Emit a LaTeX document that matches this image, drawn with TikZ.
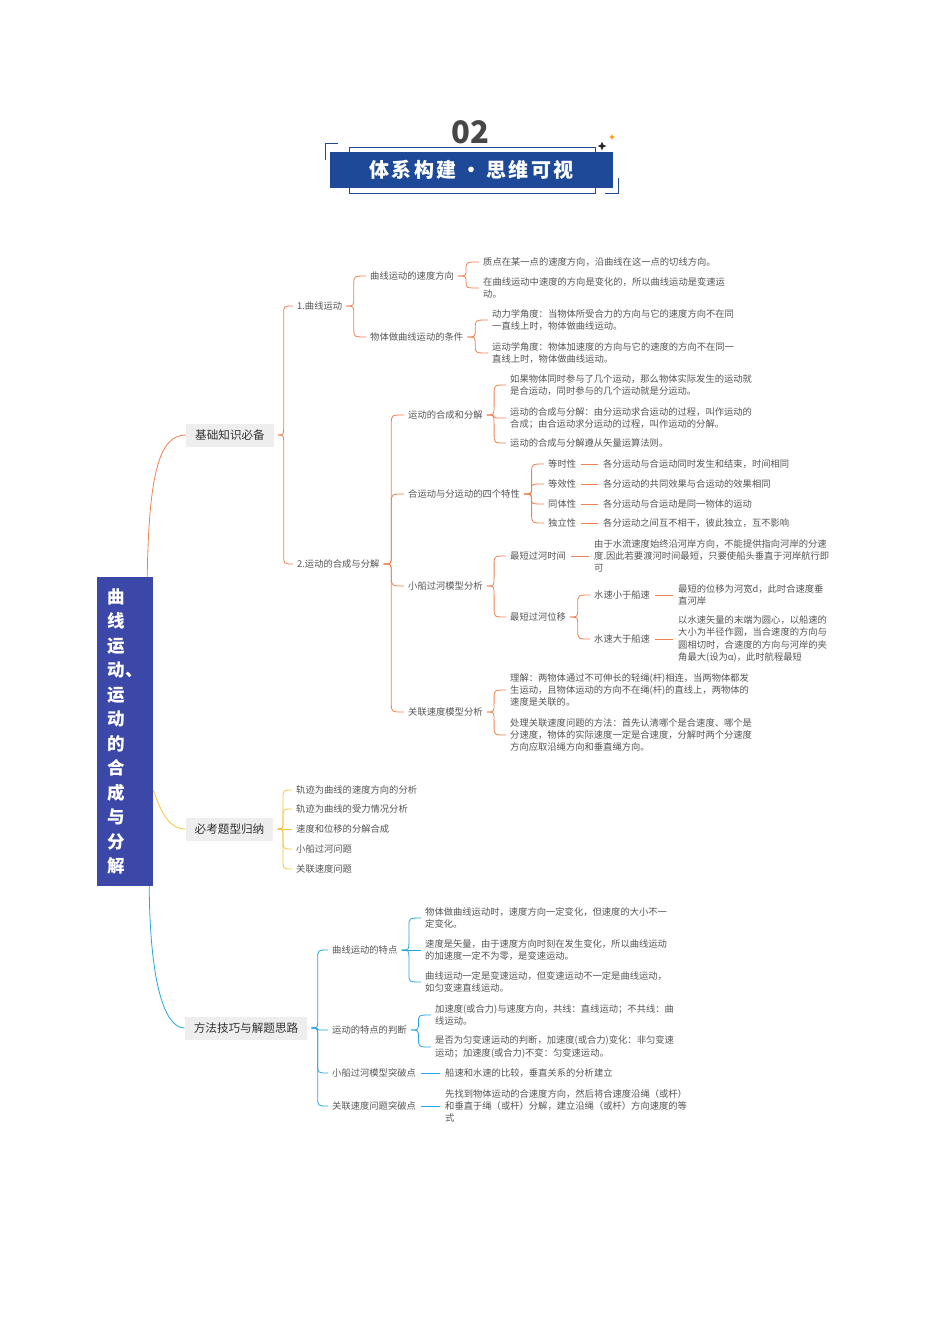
\documentclass[tikz,border=0pt]{standalone}
\usepackage{fontspec}
\setmainfont{Noto Sans CJK SC}
\usetikzlibrary{calc}
\definecolor{orn}{RGB}{240,128,80}
\definecolor{ylw}{RGB}{246,196,60}
\definecolor{sky}{RGB}{38,166,224}
\definecolor{txt}{RGB}{85,85,85}
\definecolor{bannerblue}{RGB}{30,72,152}
\definecolor{rootblue}{RGB}{60,72,168}
\definecolor{boxgray}{RGB}{238,238,238}
\tikzset{
  lbl/.style={anchor=west, inner sep=0pt, text=txt, font=\fontsize{9.3}{12.2}\selectfont, align=left},
  hub/.style={fill=boxgray, text=black!80, font=\fontsize{11.6}{14}\selectfont, inner xsep=9pt, inner ysep=0pt, minimum height=23pt},
  lo/.style={draw=orn, line width=0.8pt},
  ly/.style={draw=ylw, line width=0.8pt},
  lb/.style={draw=sky, line width=0.8pt},
}
\newcommand\brc[3]{\draw[#1] let \p1=([xshift=4pt]#2.east), \p2=([xshift=-4pt]#3.west),
  \n1={\x1+0.38*((\x2)-(\x1))}, \n2={min(9,abs((\y2)-(\y1))/2)*sign((\y2)-(\y1))} in
  (\p1) .. controls (\n1,\y1) .. (\n1,{\y1+\n2}) -- (\n1,{\y2-\n2}) .. controls (\n1,\y2) .. (\p2);}
\newcommand\dsh[3]{\draw[#1] ([xshift=5pt]#2.east) -- ([xshift=-5pt]#3.west);}
\newcommand\sparkle[4]{\fill[#4, shift={(#1,#2)}] (0,-#3) -- (0.28*#3,-0.28*#3) -- (#3,0) -- (0.28*#3,0.28*#3) -- (0,#3) -- (-0.28*#3,0.28*#3) -- (-#3,0) -- (-0.28*#3,-0.28*#3) -- cycle;}
\begin{document}
\begin{tikzpicture}[x=1pt,y=-1pt]
\useasboundingbox (0,0) rectangle (950,1344);
\fill[white] (0,0) rectangle (950,1344);
% ---------- title ----------
\node[font=\bfseries\fontsize{31}{31}\selectfont, text=black!72, inner sep=0] (num) at (470,132) {02};
\draw[bannerblue, line width=0.8pt] (349,147) rectangle (595,193);
\draw[bannerblue, line width=1pt] (338,143) -- (325,143) -- (325,160);
\draw[bannerblue, line width=1pt] (605,193) -- (618,193) -- (618,178);
\node[fill=bannerblue, minimum width=283pt, minimum height=36pt, inner sep=0, text=white,
      font=\bfseries\fontsize{20}{22}\selectfont] (banner) at (471.5,170)
      {体\hspace{2.4pt}系\hspace{2.4pt}构\hspace{2.4pt}建\hspace{5pt}·\hspace{5pt}思\hspace{2.4pt}维\hspace{2.4pt}可\hspace{2.4pt}视};
\sparkle{602}{146}{4.5}{black!85}
\sparkle{612}{137}{3}{orange!80!yellow}
% ---------- root ----------
\node[fill=rootblue, minimum width=56pt, minimum height=309pt, inner sep=0, text=white, align=left,
      font=\bfseries\fontsize{17.5}{24.5}\selectfont] (root) at (125,731.5)
      {曲\\线\\运\\动、\\运\\动\\的\\合\\成\\与\\分\\解};
% ---------- main hubs ----------
\node[hub] (b1) at (230,435) {基础知识必备};
\node[hub] (b2) at (229.5,829) {必考题型归纳};
\node[hub] (b3) at (246,1028) {方法技巧与解题思路};
\draw[lo] ([xshift=-6pt]root.north east) .. controls (149,470) and (160,435) .. (b1.west);
\draw[ly] ([yshift=-58.5pt]root.east) .. controls (162,815) and (170,829) .. (b2.west);
\draw[lb] ([xshift=-4pt]root.south east) .. controls (150,985) and (165,1028) .. (b3.west);
% ---------- branch 1 ----------
\node[lbl] (n1) at (297,306) {1.曲线运动};
\node[lbl] (n2) at (297,564) {2.运动的合成与分解};
\brc{lo}{b1}{n1} \brc{lo}{b1}{n2}
\node[lbl] (n11) at (370,276) {曲线运动的速度方向};
\node[lbl] (n12) at (370,337) {物体做曲线运动的条件};
\brc{lo}{n1}{n11} \brc{lo}{n1}{n12}
\node[lbl] (t111) at (483,262) {质点在某一点的速度方向，沿曲线在这一点的切线方向。};
\node[lbl] (t112) at (483,288) {在曲线运动中速度的方向是变化的，所以曲线运动是变速运\\动。};
\brc{lo}{n11}{t111} \brc{lo}{n11}{t112}
\node[lbl] (t121) at (492,320) {动力学角度：当物体所受合力的方向与它的速度方向不在同\\一直线上时，物体做曲线运动。};
\node[lbl] (t122) at (492,353) {运动学角度：物体加速度的方向与它的速度的方向不在同一\\直线上时，物体做曲线运动。};
\brc{lo}{n12}{t121} \brc{lo}{n12}{t122}
\node[lbl] (n21) at (408,415) {运动的合成和分解};
\node[lbl] (n22) at (408,494) {合运动与分运动的四个特性};
\node[lbl] (n23) at (408,586) {小船过河模型分析};
\node[lbl] (n24) at (408,712) {关联速度模型分析};
\brc{lo}{n2}{n21} \brc{lo}{n2}{n22} \brc{lo}{n2}{n23} \brc{lo}{n2}{n24}
\node[lbl] (t211) at (510,385) {如果物体同时参与了几个运动，那么物体实际发生的运动就\\是合运动，同时参与的几个运动就是分运动。};
\node[lbl] (t212) at (510,418) {运动的合成与分解：由分运动求合运动的过程，叫作运动的\\合成；由合运动求分运动的过程，叫作运动的分解。};
\node[lbl] (t213) at (510,443) {运动的合成与分解遵从矢量运算法则。};
\brc{lo}{n21}{t211} \brc{lo}{n21}{t212} \brc{lo}{n21}{t213}
\node[lbl] (p1) at (548,464) {等时性};
\node[lbl] (p2) at (548,484) {等效性};
\node[lbl] (p3) at (548,504) {同体性};
\node[lbl] (p4) at (548,523) {独立性};
\brc{lo}{n22}{p1} \brc{lo}{n22}{p2} \brc{lo}{n22}{p3} \brc{lo}{n22}{p4}
\node[lbl] (q1) at (603,464) {各分运动与合运动同时发生和结束，时间相同};
\node[lbl] (q2) at (603,484) {各分运动的共同效果与合运动的效果相同};
\node[lbl] (q3) at (603,504) {各分运动与合运动是同一物体的运动};
\node[lbl] (q4) at (603,523) {各分运动之间互不相干，彼此独立，互不影响};
\dsh{lo}{p1}{q1} \dsh{lo}{p2}{q2} \dsh{lo}{p3}{q3} \dsh{lo}{p4}{q4}
\node[lbl] (s1) at (510,556) {最短过河时间};
\node[lbl] (s2) at (510,617) {最短过河位移};
\brc{lo}{n23}{s1} \brc{lo}{n23}{s2}
\node[lbl] (st1) at (594,556) {由于水流速度始终沿河岸方向，不能提供指向河岸的分速\\度.因此若要渡河时间最短，只要使船头垂直于河岸航行即\\可};
\dsh{lo}{s1}{st1}
\node[lbl] (w1) at (594,595) {水速小于船速};
\node[lbl] (w2) at (594,639) {水速大于船速};
\brc{lo}{s2}{w1} \brc{lo}{s2}{w2}
\node[lbl] (wt1) at (678,595) {最短的位移为河宽d，此时合速度垂\\直河岸};
\node[lbl] (wt2) at (678,639) {以水速矢量的末端为圆心，以船速的\\大小为半径作圆，当合速度的方向与\\圆相切时，合速度的方向与河岸的夹\\角最大(设为α)，此时航程最短};
\dsh{lo}{w1}{wt1} \dsh{lo}{w2}{wt2}
\node[lbl] (r1) at (510,690) {理解：两物体通过不可伸长的轻绳(杆)相连，当两物体都发\\生运动，且物体运动的方向不在绳(杆)的直线上，两物体的\\速度是关联的。};
\node[lbl] (r2) at (510,735) {处理关联速度问题的方法：首先认清哪个是合速度、哪个是\\分速度，物体的实际速度一定是合速度，分解时两个分速度\\方向应取沿绳方向和垂直绳方向。};
\brc{lo}{n24}{r1} \brc{lo}{n24}{r2}
% ---------- branch 2 ----------
\node[lbl] (k1) at (296,790) {轨迹为曲线的速度方向的分析};
\node[lbl] (k2) at (296,809) {轨迹为曲线的受力情况分析};
\node[lbl] (k3) at (296,829) {速度和位移的分解合成};
\node[lbl] (k4) at (296,849) {小船过河问题};
\node[lbl] (k5) at (296,869) {关联速度问题};
\brc{ly}{b2}{k1} \brc{ly}{b2}{k2} \brc{ly}{b2}{k3} \brc{ly}{b2}{k4} \brc{ly}{b2}{k5}
% ---------- branch 3 ----------
\node[lbl] (f1) at (332,950) {曲线运动的特点};
\node[lbl] (f2) at (332,1030) {运动的特点的判断};
\node[lbl] (f3) at (332,1073) {小船过河模型突破点};
\node[lbl] (f4) at (332,1106) {关联速度问题突破点};
\brc{lb}{b3}{f1} \brc{lb}{b3}{f2} \brc{lb}{b3}{f3} \brc{lb}{b3}{f4}
\node[lbl] (c1) at (425,918) {物体做曲线运动时，速度方向一定变化，但速度的大小不一\\定变化。};
\node[lbl] (c2) at (425,950) {速度是矢量，由于速度方向时刻在发生变化，所以曲线运动\\的加速度一定不为零，是变速运动。};
\node[lbl] (c3) at (425,982) {曲线运动一定是变速运动，但变速运动不一定是曲线运动，\\如匀变速直线运动。};
\brc{lb}{f1}{c1} \brc{lb}{f1}{c2} \brc{lb}{f1}{c3}
\node[lbl] (j1) at (435,1015) {加速度(或合力)与速度方向，共线：直线运动；不共线：曲\\线运动。};
\node[lbl] (j2) at (435,1047) {是否为匀变速运动的判断，加速度(或合力)变化：非匀变速\\运动；加速度(或合力)不变：匀变速运动。};
\brc{lb}{f2}{j1} \brc{lb}{f2}{j2}
\node[lbl] (ft3) at (445,1073) {船速和水速的比较，垂直关系的分析建立};
\node[lbl] (ft4) at (445,1106) {先找到物体运动的合速度方向，然后将合速度沿绳（或杆）\\和垂直于绳（或杆）分解，建立沿绳（或杆）方向速度的等\\式};
\dsh{lb}{f3}{ft3} \dsh{lb}{f4}{ft4}
\end{tikzpicture}
\end{document}
